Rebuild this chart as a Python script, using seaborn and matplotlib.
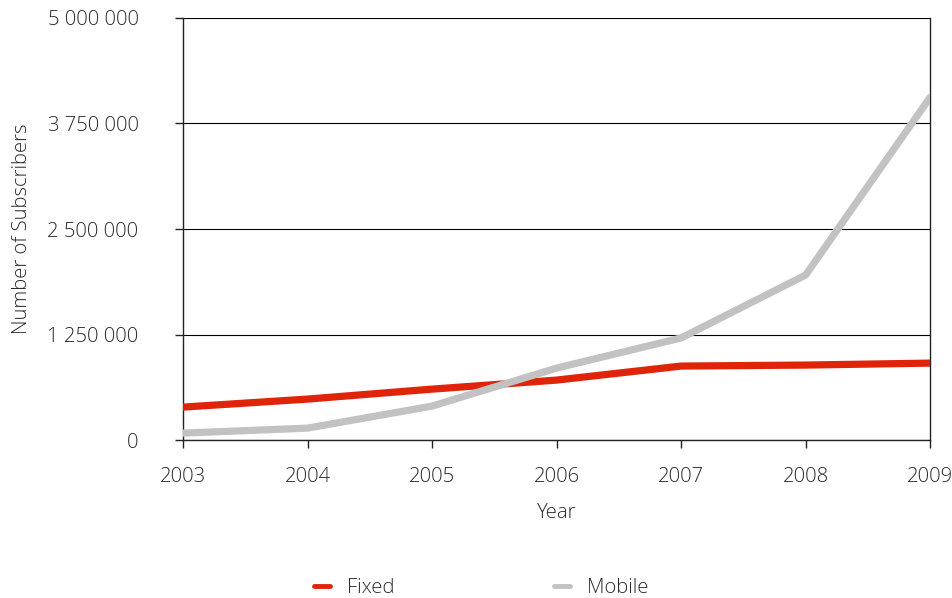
import matplotlib
matplotlib.use("Agg")
import matplotlib.pyplot as plt
import matplotlib.ticker as mticker
from matplotlib.lines import Line2D
import seaborn as sns
import pandas as pd

years = [2003, 2004, 2005, 2006, 2007, 2008, 2009]
fixed = [391000, 486000, 604000, 711000, 877000, 889000, 912000]
mobile = [83000, 142000, 403000, 853000, 1210000, 1955000, 4060000]
series_names = ["Fixed", "Mobile"]
colors = ["#E0240A", "#C2C2C2"]
yticks = [0, 1250000, 2500000, 3750000, 5000000]

df = pd.DataFrame({"Year": years * 2,
                   "Subscribers": fixed + mobile,
                   "Series": [series_names[0]] * len(years) + [series_names[1]] * len(years)})

sns.set_theme(style="white")
plt.rcParams['font.family'] = ['Open Sans', 'DejaVu Sans']
plt.rcParams['font.weight'] = 'light'
plt.rcParams['axes.labelweight'] = 'light'

fig = plt.figure(figsize=(9.53, 5.98), dpi=100)
ax = fig.add_axes([0.192, 0.264, 0.784, 0.706])

sns.lineplot(data=df, x="Year", y="Subscribers", hue="Series",
             palette=colors, linewidth=5.2, ax=ax, legend=False, zorder=3)

fs = 14.6
tc = "#2a2a2a"
ax.set_xlim(2003, 2009)
ax.set_ylim(0, 5000000)
ax.set_xticks(years)
ax.set_yticks(yticks)
ax.yaxis.set_major_formatter(mticker.FuncFormatter(lambda v, p: f"{int(v):,}".replace(",", " ")))
ax.grid(axis="y", color="black", linewidth=0.8)
ax.set_axisbelow(True)
for s in ["left", "right", "bottom"]:
    ax.spines[s].set_visible(True)
    ax.spines[s].set_color("#222222")
    ax.spines[s].set_linewidth(1.0)
ax.spines["top"].set_visible(False)
ax.tick_params(axis="both", which="major", direction="out", length=6, width=1,
               color="#222222", labelsize=fs, labelcolor=tc, bottom=True, left=True)
ax.tick_params(axis="x", pad=13)
ax.tick_params(axis="y", pad=26)
ax.set_xlabel("Year", fontsize=fs, color=tc, fontweight="light")
ax.set_ylabel("Number of Subscribers", fontsize=fs, color=tc, fontweight="light")
ax.xaxis.set_label_coords(0.5, -0.150)
ax.yaxis.set_label_coords(-0.202, 0.5)

handles = [Line2D([], [], color=c, linewidth=3.5) for c in colors]
fig.legend(handles, series_names, loc="center", bbox_to_anchor=(0.505, 0.017), ncol=2,
           frameon=False, handlelength=0.8, handletextpad=0.85,
           columnspacing=7.85, labelcolor=tc, prop={"weight": "light", "size": fs})

fig.savefig("out.png", dpi=100)
